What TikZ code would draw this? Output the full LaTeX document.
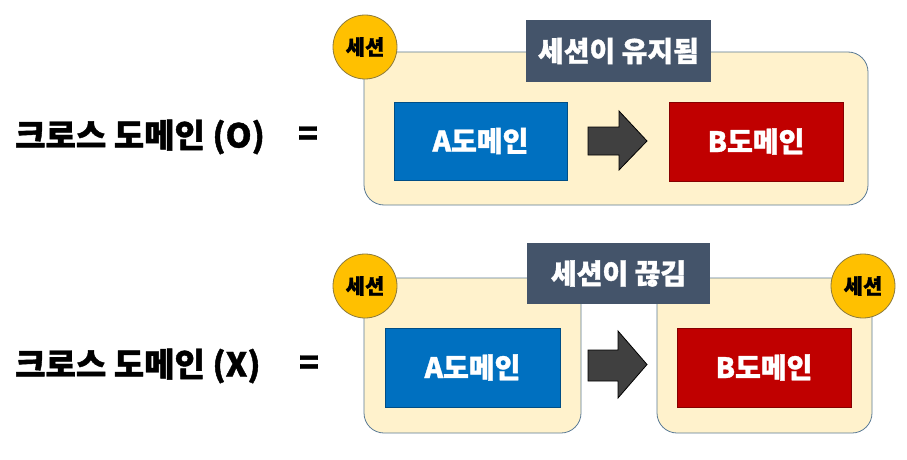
\documentclass[tikz,border=0pt]{standalone}
\usepackage{fontspec}
\newfontfamily\kr{Noto Sans CJK KR}[BoldFeatures={FakeBold=1.2}]
\usetikzlibrary{positioning}
\definecolor{panelfill}{HTML}{FFF2CC}
\definecolor{paneldraw}{HTML}{5B7B96}
\definecolor{titlefill}{HTML}{44546A}
\definecolor{afill}{HTML}{0070C0}
\definecolor{bfill}{HTML}{C00000}
\definecolor{goldfill}{HTML}{FFC000}
\definecolor{golddraw}{HTML}{8C7A3C}
\definecolor{arrowfill}{HTML}{404040}
\tikzset{
  panel/.style={draw=paneldraw, line width=0.8pt, fill=panelfill, rounded corners=20pt, inner sep=0pt},
  titlebox/.style={fill=titlefill, text=white, font=\kr\bfseries\fontsize{28}{28}\selectfont, inner sep=0pt},
  domainbox/.style={text=white, font=\kr\bfseries\fontsize{28}{28}\selectfont, inner sep=0pt, draw=#1!70!black, line width=0.6pt, fill=#1},
  sessioncircle/.style={circle, fill=goldfill, draw=golddraw, line width=0.8pt, minimum size=64pt, inner sep=0pt, text=black, font=\kr\bfseries\fontsize{21}{21}\selectfont},
  blockarrow/.style={fill=arrowfill, draw=black, line width=0.8pt},
  biglabel/.style={font=\kr\bfseries\fontsize{33}{33}\selectfont, inner sep=0pt, text=black}
}
\begin{document}
\begin{tikzpicture}[x=1pt,y=-1pt]
\useasboundingbox[fill=white] (0,0) rectangle (907,460);
% ---------- top row ----------
\node[biglabel, anchor=west] (lab1) at (15,137) {크로스 도메인 (O)};
\node[biglabel] (eq1) at (308,136) {=};
\node[panel, minimum width=504pt, minimum height=153pt] (p1) at (616,128.5) {};
\node[titlebox, minimum width=185pt, minimum height=62pt] (t1) at (618.5,51) {세션이 유지됨};
\node[sessioncircle] (c1) at (365,47) {세션};
\node[domainbox=afill, minimum width=173pt, minimum height=78pt] (a1) at (480.5,141) {A도메인};
\node[domainbox=bfill, minimum width=174pt, minimum height=79pt] (b1) at (756,141.5) {B도메인};
\draw[blockarrow] (588,127) -- (619,127) -- (619,111) -- (647,141) -- (619,170) -- (619,155) -- (588,155) -- cycle;
% ---------- bottom row ----------
\node[biglabel, anchor=west] (lab2) at (15,366) {크로스 도메인 (X)};
\node[biglabel] (eq2) at (309,365) {=};
\node[panel, minimum width=217pt, minimum height=155pt] (p2) at (472.5,355.5) {};
\node[panel, minimum width=215pt, minimum height=155pt] (p3) at (764.5,355.5) {};
\node[titlebox, minimum width=183pt, minimum height=61pt] (t2) at (618.5,273.5) {세션이 끊김};
\node[sessioncircle] (c2) at (365,286) {세션};
\node[sessioncircle] (c3) at (863,286) {세션};
\node[domainbox=afill, minimum width=175pt, minimum height=79pt] (a2) at (472.5,367.5) {A도메인};
\node[domainbox=bfill, minimum width=174pt, minimum height=79pt] (b2) at (764,367.5) {B도메인};
\draw[blockarrow] (588,350) -- (618,350) -- (618,331) -- (647,364.5) -- (618,398) -- (618,381) -- (588,381) -- cycle;
\end{tikzpicture}
\end{document}
